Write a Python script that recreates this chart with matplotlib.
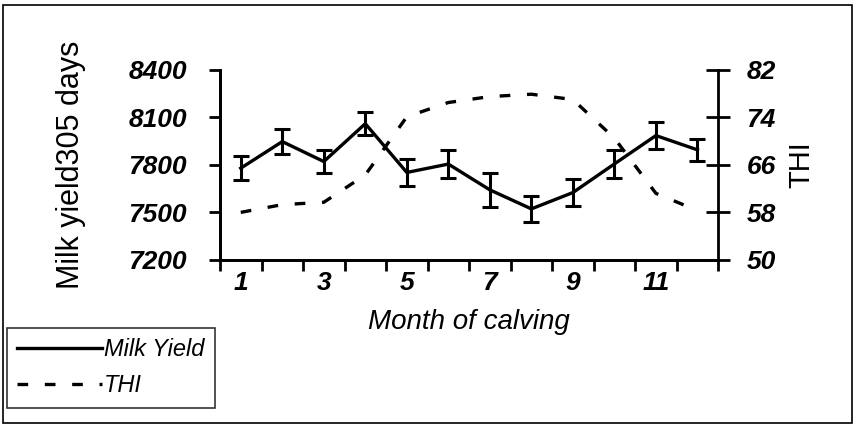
import matplotlib.pyplot as plt
from matplotlib.patches import Rectangle
from matplotlib.lines import Line2D
from matplotlib.ticker import FixedLocator

plt.rcParams["font.family"] = ["Liberation Sans", "DejaVu Sans"]

months = [1, 2, 3, 4, 5, 6, 7, 8, 9, 10, 11, 12]
milk_yield = [7779, 7947, 7821, 8060, 7752, 7805, 7642, 7522, 7625, 7806, 7985, 7895]
milk_err = [76, 77, 74, 74, 86, 88, 105, 84, 87, 89, 83, 71]
thi = [58.0, 59.3, 59.7, 64.3, 74.1, 76.5, 77.5, 77.9, 77.0, 70.5, 61.2, 58.3]

yield_ticks = [7200, 7500, 7800, 8100, 8400]
thi_ticks = [50, 58, 66, 74, 82]
month_labels = [1, 3, 5, 7, 9, 11]

fig = plt.figure(figsize=(8.56, 4.26), dpi=100)
ax = fig.add_axes([0.257, 0.39, 0.582, 0.446])
ax2 = ax.twinx()

ax.errorbar(months, milk_yield, yerr=milk_err, color="black", lw=2.4,
            elinewidth=2.2, capsize=6, capthick=2.2, zorder=3)
ax2.plot(months, thi, color="black", lw=2.4, linestyle=(0, (3.2, 5)))

ax.set_xlim(0.5, 12.5)
ax.set_ylim(7200, 8400)
ax2.set_ylim(50, 82)

ax.set_yticks(yield_ticks)
ax2.set_yticks(thi_ticks)
ax.set_xticks(month_labels)
ax.xaxis.set_minor_locator(FixedLocator([m + 0.5 for m in range(0, 13)]))

tick_font = dict(fontsize=19, fontweight="bold", fontstyle="italic")
ax.set_yticklabels([str(v) for v in yield_ticks], **tick_font)
ax2.set_yticklabels([str(v) for v in thi_ticks], **tick_font)
ax.set_xticklabels([str(v) for v in month_labels], **tick_font)

for a in (ax, ax2):
    a.spines["top"].set_visible(False)
    for s in a.spines.values():
        s.set_linewidth(2)
ax.spines["right"].set_visible(False)

ax.tick_params(axis="y", direction="out", length=8, width=2, pad=16)
ax.tick_params(axis="x", which="major", length=0, pad=8)
ax.tick_params(axis="x", which="minor", direction="out", length=8, width=2)
ax2.tick_params(axis="y", direction="inout", length=17, width=2, pad=12)

ax.set_ylabel("Milk yield305 days", fontsize=22, labelpad=30)
ax2.set_ylabel("THI", fontsize=21, labelpad=8)
ax.set_xlabel("Month of calving", fontsize=20, fontstyle="italic", labelpad=10)

handles = [Line2D([], [], color="black", lw=2.4),
           Line2D([], [], color="black", lw=2.4, linestyle=(0, (3.2, 5)))]
leg = fig.legend(handles, ["Milk Yield", "THI"], loc="lower left",
                 bbox_to_anchor=(0.008, 0.042), borderaxespad=0, frameon=True,
                 fancybox=False, handlelength=3.6, handletextpad=0.05,
                 borderpad=0.45, labelspacing=0.55, prop=dict(size=17, style="italic"))
leg.get_frame().set_edgecolor("black")
leg.get_frame().set_linewidth(1.2)

fig.patches.append(Rectangle((0.004, 0.008), 0.991, 0.98, transform=fig.transFigure,
                             fill=False, edgecolor="black", lw=1.2))

fig.savefig("out.png", dpi=100)
